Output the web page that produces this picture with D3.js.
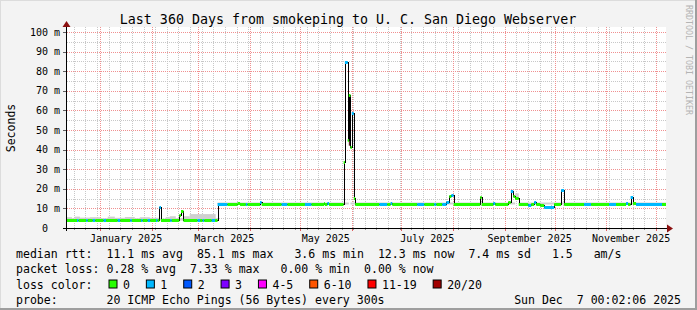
<!DOCTYPE html>
<html>
<head>
<meta charset="utf-8">
<script src="https://cdn.jsdelivr.net/npm/d3@7"></script>
<style>
  body { margin: 0; background: #f3f3f3; }
  svg { display: block; font-family: "DejaVu Sans Mono", monospace; }
</style>
</head>
<body>
<div id="chart"></div>
<script>
// ================== DATOS ==================
const titleText = "Last 360 Days from smokeping to U. C. San Diego Webserver";
const startTime = "2024-12-12 00:02:06";
const endTime = "2025-12-07 00:02:06";

// median rtt (ms), step values, loss bucket index
const medianDates = [
  "2024-12-12 00:00", "2024-12-18 00:00", "2024-12-19 00:00", "2024-12-23 12:00", "2024-12-24 12:00",
  "2024-12-27 12:00", "2024-12-29 00:00", "2025-01-03 00:00", "2025-01-04 12:00", "2025-01-11 12:00",
  "2025-01-13 00:00", "2025-01-19 00:00", "2025-01-20 00:00", "2025-01-25 12:00", "2025-01-26 12:00",
  "2025-01-29 12:00", "2025-01-31 00:00", "2025-02-03 12:00", "2025-02-04 12:00", "2025-02-05 12:00",
  "2025-02-06 12:00", "2025-02-12 00:00", "2025-02-13 00:00", "2025-02-17 12:00", "2025-02-18 12:00",
  "2025-02-20 00:00", "2025-02-28 12:00", "2025-03-02 00:00", "2025-03-03 12:00", "2025-03-04 12:00",
  "2025-03-09 00:00", "2025-03-11 00:00", "2025-03-12 12:00", "2025-03-18 12:00", "2025-03-24 12:00",
  "2025-03-26 00:00", "2025-03-29 12:00", "2025-03-30 12:00", "2025-04-07 00:00", "2025-04-08 00:00",
  "2025-04-20 00:00", "2025-04-23 12:00", "2025-05-04 00:00", "2025-05-08 00:00", "2025-05-15 12:00",
  "2025-05-16 00:00", "2025-05-17 12:00", "2025-05-18 12:00", "2025-05-27 06:00", "2025-05-28 00:00",
  "2025-05-29 18:00", "2025-05-30 09:00", "2025-05-31 09:00", "2025-06-01 04:00", "2025-06-02 09:00",
  "2025-06-03 05:00", "2025-06-17 18:00", "2025-06-22 12:00", "2025-06-24 12:00", "2025-06-25 12:00",
  "2025-07-10 12:00", "2025-07-14 18:00", "2025-07-20 18:00", "2025-07-22 00:00", "2025-07-25 12:00",
  "2025-07-28 00:00", "2025-07-29 18:00", "2025-07-31 00:00", "2025-08-01 09:00", "2025-08-17 09:00",
  "2025-08-18 06:00", "2025-08-25 05:00", "2025-08-26 09:00", "2025-09-03 05:00", "2025-09-04 17:00",
  "2025-09-06 05:00", "2025-09-07 09:00", "2025-09-09 12:00", "2025-09-15 05:00", "2025-09-17 00:00",
  "2025-09-18 19:00", "2025-09-20 00:00", "2025-09-22 10:00", "2025-09-24 19:00", "2025-09-30 19:00",
  "2025-10-05 00:00", "2025-10-06 19:00", "2025-10-18 19:00", "2025-10-23 00:00", "2025-11-02 19:00",
  "2025-11-07 00:00", "2025-11-13 00:00", "2025-11-14 05:00", "2025-11-15 17:00", "2025-11-17 05:00",
  "2025-11-19 00:00", "2025-12-04 14:00"
];
const medianMs = [
  4.0, 4.0, 4.0, 4.0, 4.0,
  4.0, 4.0, 4.0, 4.0, 4.0,
  4.0, 4.0, 4.0, 4.0, 4.0,
  4.0, 4.0, 4.0, 4.0, 10.5,
  4.0, 4.0, 4.0, 6.6, 8.8,
  4.0, 4.0, 4.0, 4.0, 4.0,
  4.0, 4.0, 12.3, 12.3, 13.0,
  12.3, 12.3, 12.3, 13.5, 12.3,
  12.3, 12.3, 12.3, 12.3, 13.0,
  12.3, 13.0, 12.3, 33.8, 84.9,
  44.9, 67.9, 41.5, 58.5, 15.1,
  12.3, 12.3, 12.3, 13.0, 12.3,
  12.3, 12.3, 12.3, 12.3, 12.3,
  13.5, 16.3, 16.8, 12.3, 15.7,
  12.3, 13.0, 12.3, 13.5, 18.9,
  16.3, 15.1, 12.5, 11.5, 12.0,
  13.5, 12.5, 11.5, 10.5, 12.0,
  19.4, 12.0, 12.0, 12.0, 12.0,
  12.0, 13.0, 12.3, 15.7, 12.8,
  12.3, 12.3
];
const medianLoss = [
  0, 1, 0, 1, 0,
  1, 0, 1, 0, 1,
  0, 1, 0, 1, 0,
  1, 0, 1, 0, 1,
  0, 1, 0, 0, 0,
  0, 1, 0, 1, 0,
  1, 0, 1, 0, 0,
  0, 1, 0, 1, 0,
  1, 0, 1, 0, 0,
  0, 1, 0, 0, 1,
  0, 0, 0, 1, 0,
  0, 1, 0, 1, 0,
  1, 0, 1, 0, 1,
  1, 0, 1, 0, 0,
  0, 1, 0, 0, 1,
  0, 0, 0, 1, 0,
  1, 0, 0, 1, 0,
  1, 0, 1, 0, 1,
  0, 1, 0, 1, 0,
  1, 0
];

// smoke (ping spread), ms
const smokeDates = [
  "2024-12-12 00:00", "2024-12-15 00:00", "2024-12-16 18:00", "2024-12-19 18:00", "2024-12-25 18:00",
  "2024-12-31 18:00", "2025-01-05 12:00", "2025-01-09 18:00", "2025-01-15 18:00", "2025-01-21 18:00",
  "2025-01-24 18:00", "2025-01-30 18:00", "2025-02-05 18:00", "2025-02-09 09:00", "2025-02-11 18:00",
  "2025-02-15 09:00", "2025-02-20 06:00", "2025-02-23 18:00", "2025-03-11 09:00", "2025-03-12 12:00",
  "2025-05-30 09:00", "2025-05-31 09:00", "2025-09-07 09:00", "2025-09-09 12:00"
];
const smokeLow = [
  3.8, 3.8, 3.8, 3.8, 3.8,
  3.8, 3.8, 3.8, 3.8, 3.8,
  3.8, 3.8, 3.8, 3.8, 3.8,
  3.8, 3.8, 3.8, 3.8, 12.0,
  42.0, 12.0, 14.5, 12.0
];
const smokeHigh = [
  5.5, 5.0, 5.8, 5.3, 5.5,
  5.0, 5.8, 5.2, 5.6, 5.0,
  5.5, 5.2, 4.8, 5.6, 6.0,
  5.0, 6.0, 7.1, 5.0, 13.0,
  67.9, 13.0, 17.7, 13.0
];
const smokeColor = ["#cfcfcf", "#cfcfcf", "#cfcfcf", "#cfcfcf", "#cfcfcf",
  "#cfcfcf", "#cfcfcf", "#cfcfcf", "#cfcfcf", "#cfcfcf",
  "#cfcfcf", "#cfcfcf", "#cfcfcf", "#cfcfcf", "#cfcfcf",
  "#cfcfcf", "#cfcfcf", "#cfcfcf", "#cfcfcf", "#cfcfcf",
  "#5a2a2a", "#cfcfcf", "#cfcfcf", "#cfcfcf"];

const yTickValues = [0, 10, 20, 30, 40, 50, 60, 70, 80, 90, 100];
const yTickLabels = ["0", "10", "20", "30", "40", "50", "60", "70", "80", "90", "100"];

const lossLabels = ["0", "1", "2", "3", "4-5", "6-10", "11-19", "20/20"];
const lossColors = ["#26ff00", "#00b8ff", "#0059ff", "#7e00ff", "#ff00ff", "#ff5500", "#ff0000", "#a10000"];

const rttStats = ["11.1 ms avg", "85.1 ms max", "3.6 ms min", "12.3 ms now", "7.4 ms sd", "1.5", "am/s"];
const rttCols = [13, 26, 40, 52, 65, 77, 83];
const lossStats = ["0.28 % avg", "7.33 % max", "0.00 % min", "0.00 % now"];
const lossCols = [13, 25, 38, 50];
const probeText = "20 ICMP Echo Pings (56 Bytes) every 300s";
const dateStamp = "Sun Dec  7 00:02:06 2025";

// ================== CONFIGURACIÓN ==================
const svgWidth = 697;
const svgHeight = 310;
const plot = { left: 67, right: 666, top: 27, bottom: 228 };

const parseTime = d3.timeParse("%Y-%m-%d %H:%M");
const parseFull = d3.timeParse("%Y-%m-%d %H:%M:%S");
const t0 = parseFull(startTime);
const t1 = parseFull(endTime);

const xScale = d3.scaleTime().domain([t0, t1]).range([plot.left, plot.right]);
const yScale = d3.scaleLinear().domain([0, 100]).range([plot.bottom, 32]);

const svg = d3.select("#chart")
  .append("svg")
  .attr("width", svgWidth)
  .attr("height", svgHeight);

// fondo y marco
svg.append("rect").attr("width", svgWidth).attr("height", svgHeight).attr("fill", "#f3f3f3");
svg.append("rect").attr("x", 0).attr("y", 0).attr("width", svgWidth).attr("height", 1).attr("fill", "#dcdcdc");
svg.append("rect").attr("x", 0).attr("y", 0).attr("width", 1).attr("height", svgHeight).attr("fill", "#dcdcdc");
svg.append("rect").attr("x", svgWidth - 2).attr("y", 0).attr("width", 2).attr("height", svgHeight).attr("fill", "#9e9e9e");
svg.append("rect").attr("x", 0).attr("y", svgHeight - 2).attr("width", svgWidth).attr("height", 2).attr("fill", "#9e9e9e");

svg.append("rect")
  .attr("x", plot.left).attr("y", plot.top)
  .attr("width", plot.right - plot.left).attr("height", plot.bottom - plot.top)
  .attr("fill", "#ffffff");

svg.append("defs").append("clipPath").attr("id", "clip")
  .append("rect")
  .attr("x", plot.left).attr("y", plot.top)
  .attr("width", plot.right - plot.left).attr("height", plot.bottom - plot.top);

// ================== GRID ==================
const grid = svg.append("g").attr("shape-rendering", "crispEdges");

// menor horizontal (5 ms)
yScale.ticks(20).filter(v => v % 10 !== 0).forEach(v => {
  grid.append("line")
    .attr("x1", plot.left).attr("x2", plot.right)
    .attr("y1", Math.round(yScale(v)) + 0.5).attr("y2", Math.round(yScale(v)) + 0.5)
    .attr("stroke", "#c8c8c8").attr("stroke-dasharray", "1,1");
});
// menor vertical (semanas)
xScale.ticks(d3.timeMonday).forEach(d => {
  const x = Math.round(xScale(d)) + 0.5;
  grid.append("line")
    .attr("x1", x).attr("x2", x).attr("y1", plot.top).attr("y2", plot.bottom)
    .attr("stroke", "#c8c8c8").attr("stroke-dasharray", "1,1");
  grid.append("line")
    .attr("x1", x).attr("x2", x).attr("y1", plot.bottom).attr("y2", plot.bottom + 2)
    .attr("stroke", "#909090");
});
// mayor vertical (meses)
xScale.ticks(d3.timeMonth).forEach(d => {
  const x = Math.round(xScale(d)) + 0.5;
  grid.append("line")
    .attr("x1", x).attr("x2", x).attr("y1", plot.top).attr("y2", plot.bottom)
    .attr("stroke", "#f09090").attr("stroke-dasharray", "1,1");
  grid.append("line")
    .attr("x1", x).attr("x2", x).attr("y1", plot.bottom).attr("y2", plot.bottom + 3)
    .attr("stroke", "#e06060");
});
// mayor horizontal (10 ms)
yTickValues.filter(v => v > 0).forEach(v => {
  grid.append("line")
    .attr("x1", plot.left).attr("x2", plot.right)
    .attr("y1", Math.round(yScale(v)) + 0.5).attr("y2", Math.round(yScale(v)) + 0.5)
    .attr("stroke", "#f09090").attr("stroke-dasharray", "1,1");
});
yTickValues.forEach(v => {
  grid.append("line")
    .attr("x1", plot.left - 4).attr("x2", plot.left)
    .attr("y1", Math.round(yScale(v)) + 0.5).attr("y2", Math.round(yScale(v)) + 0.5)
    .attr("stroke", "#606060");
});

// ================== SERIES ==================
const series = medianDates.map((d, i) => ({
  t: parseTime(d),
  v: medianMs[i],
  loss: medianLoss[i],
  tEnd: i + 1 < medianDates.length ? parseTime(medianDates[i + 1]) : t1
}));
const smoke = smokeDates.map((d, i) => ({
  t: parseTime(d),
  tEnd: i + 1 < smokeDates.length ? parseTime(smokeDates[i + 1]) : t1,
  lo: smokeLow[i],
  hi: smokeHigh[i],
  c: smokeColor[i]
}));

const plotG = svg.append("g").attr("clip-path", "url(#clip)");

plotG.selectAll(".smoke")
  .data(smoke)
  .enter()
  .append("rect")
  .attr("class", "smoke")
  .attr("x", d => xScale(d.t))
  .attr("width", d => xScale(d.tEnd) - xScale(d.t))
  .attr("y", d => yScale(d.hi))
  .attr("height", d => yScale(d.lo) - yScale(d.hi))
  .attr("fill", d => d.c);

const stepPts = series.concat([{ t: t1, v: series[series.length - 1].v }]);
plotG.append("path")
  .datum(stepPts)
  .attr("fill", "none")
  .attr("stroke", "#000")
  .attr("stroke-width", 1)
  .attr("shape-rendering", "crispEdges")
  .attr("d", d3.line()
    .curve(d3.curveStepAfter)
    .x(d => Math.round(xScale(d.t)) + 0.5)
    .y(d => Math.round(yScale(d.v)) + 0.5));

plotG.selectAll(".seg")
  .data(series)
  .enter()
  .append("line")
  .attr("class", "seg")
  .attr("x1", d => xScale(d.t))
  .attr("x2", d => xScale(d.tEnd))
  .attr("y1", d => Math.round(yScale(d.v)) + 0.5)
  .attr("y2", d => Math.round(yScale(d.v)) + 0.5)
  .attr("stroke", d => lossColors[d.loss])
  .attr("stroke-width", 3);

// ================== EJES ==================
svg.append("line")
  .attr("x1", plot.left - 4).attr("x2", plot.right + 2)
  .attr("y1", plot.bottom + 0.5).attr("y2", plot.bottom + 0.5)
  .attr("stroke", "#000").attr("shape-rendering", "crispEdges");
svg.append("line")
  .attr("x1", plot.left - 0.5).attr("x2", plot.left - 0.5)
  .attr("y1", plot.bottom + 3).attr("y2", 25)
  .attr("stroke", "#000").attr("shape-rendering", "crispEdges");
svg.append("path")
  .attr("d", `M${plot.right + 1},${plot.bottom - 3.5} L${plot.right + 7},${plot.bottom + 0.5} L${plot.right + 1},${plot.bottom + 4.5} Z`)
  .attr("fill", "#8b1010");
svg.append("path")
  .attr("d", `M${plot.left - 4.5},27 L${plot.left - 0.5},21 L${plot.left + 3.5},27 Z`)
  .attr("fill", "#8b1010");

// etiquetas Y
const yLab = svg.append("g").attr("font-size", "10px").attr("fill", "#000");
yTickValues.forEach((v, i) => {
  yLab.append("text")
    .attr("x", 48).attr("y", yScale(v) + 3.5)
    .attr("text-anchor", "end")
    .text(yTickLabels[i]);
  if (v !== 0) {
    yLab.append("text")
      .attr("x", 54).attr("y", yScale(v) + 3.5)
      .text("m");
  }
});

// etiquetas X (cada 2 meses, centradas en el mes)
const xLab = svg.append("g").attr("font-size", "10px").attr("fill", "#000").attr("text-anchor", "middle");
const fmtMonth = d3.timeFormat("%B %Y");
d3.timeMonth.every(2).range(d3.timeMonth.floor(t0), t1).forEach(m => {
  const mid = new Date((m.getTime() + d3.timeMonth.offset(m, 1).getTime()) / 2);
  if (mid < t0 || mid > t1) return;
  xLab.append("text")
    .attr("x", xScale(mid)).attr("y", 241.5)
    .text(fmtMonth(m));
});

// título
svg.append("text")
  .attr("x", 348).attr("y", 23.5)
  .attr("text-anchor", "middle")
  .attr("font-size", "13.3px")
  .text(titleText);

svg.append("text")
  .attr("transform", "translate(15,128) rotate(-90)")
  .attr("text-anchor", "middle")
  .attr("font-size", "11.5px")
  .text("Seconds");

svg.append("text")
  .attr("transform", "translate(686,5) rotate(90)")
  .attr("font-size", "8.3px")
  .attr("fill", "#b4b4b4")
  .text("RRDTOOL / TOBI OETIKER");

// ================== LEYENDA ==================
const charW = 6.96;
const legX = 16;
const rowY = [257.5, 273, 288.5, 304];
const leg = svg.append("g").attr("font-size", "11.56px").attr("fill", "#000");

leg.append("text").attr("x", legX).attr("y", rowY[0]).text("median rtt:");
rttStats.forEach((s, i) => {
  leg.append("text").attr("x", legX + rttCols[i] * charW).attr("y", rowY[0]).text(s);
});

leg.append("text").attr("x", legX).attr("y", rowY[1]).text("packet loss:");
lossStats.forEach((s, i) => {
  leg.append("text").attr("x", legX + lossCols[i] * charW).attr("y", rowY[1]).text(s);
});

leg.append("text").attr("x", legX).attr("y", rowY[2]).text("loss color:");
let cursor = 108.5;
lossLabels.forEach((lab, i) => {
  leg.append("rect")
    .attr("x", cursor + 0.5).attr("y", rowY[2] - 8.5)
    .attr("width", 8).attr("height", 8)
    .attr("fill", lossColors[i])
    .attr("stroke", "#000").attr("stroke-width", 1);
  leg.append("text").attr("x", cursor + 14.5).attr("y", rowY[2]).text(lab);
  cursor += 14.5 + lab.length * charW + 15.9;
});

leg.append("text").attr("x", legX).attr("y", rowY[3]).text("probe:");
leg.append("text").attr("x", legX + 13 * charW).attr("y", rowY[3]).text(probeText);
leg.append("text")
  .attr("x", 681).attr("y", rowY[3])
  .attr("text-anchor", "end")
  .style("white-space", "pre")
  .text(dateStamp);
</script>
</body>
</html>
